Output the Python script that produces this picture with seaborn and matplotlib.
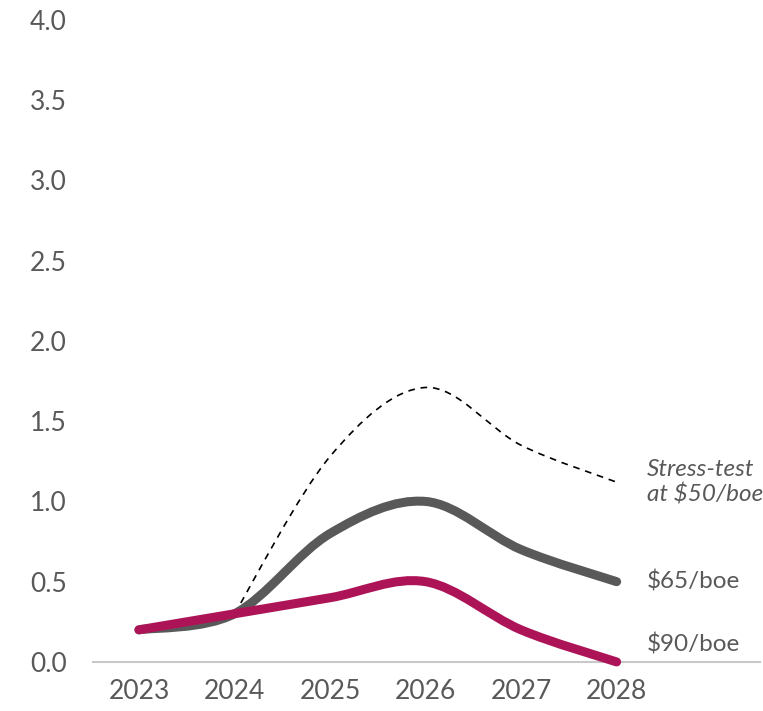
import matplotlib
matplotlib.use("Agg")
import numpy as np
import matplotlib.pyplot as plt
from matplotlib.path import Path
from matplotlib.patches import PathPatch
import seaborn as sns

years = [2023, 2024, 2025, 2026, 2027, 2028]
price_90 = [0.2, 0.3, 0.4, 0.5, 0.2, 0.0]
price_65 = [0.2, 0.3, 0.8, 1.0, 0.7, 0.5]
stress_years = [2024, 2025, 2026, 2027, 2028]
stress_50 = [0.3, 1.28, 1.71, 1.35, 1.12]
yticks = [0.0, 0.5, 1.0, 1.5, 2.0, 2.5, 3.0, 3.5, 4.0]

sns.set_theme(style="white")
plt.rcParams["font.family"] = ["Lato", "DejaVu Sans"]
txt = "#595959"


def smooth_path(xs, ys):
    # Excel-like smoothing: Catmull-Rom segments as cubic Bezier curves
    pts = np.column_stack([xs, ys]).astype(float)
    verts = [pts[0]]
    codes = [Path.MOVETO]
    n = len(pts)
    for i in range(n - 1):
        p0 = pts[i - 1] if i > 0 else pts[i]
        p1 = pts[i]
        p2 = pts[i + 1]
        p3 = pts[i + 2] if i + 2 < n else pts[i + 1]
        c1 = p1 + (p2 - p0) / 6
        c2 = p2 - (p3 - p1) / 6
        verts += [c1, c2, p2]
        codes += [Path.CURVE4] * 3
    return Path(verts, codes)


fig = plt.figure(figsize=(7.63, 7.11), dpi=100)
ax = fig.add_axes([0.122, 0.069, 0.874, 0.903])

ax.add_patch(PathPatch(smooth_path(stress_years, stress_50), fill=False,
                       edgecolor="black", lw=1.2, linestyle=(0, (4, 3.5)),
                       zorder=2, clip_on=False))
ax.add_patch(PathPatch(smooth_path(years, price_65), fill=False,
                       edgecolor="#595959", lw=6.5, capstyle="round",
                       zorder=3, clip_on=False))
ax.add_patch(PathPatch(smooth_path(years, price_90), fill=False,
                       edgecolor="#AD1457", lw=6.5, capstyle="round",
                       zorder=4, clip_on=False))

ax.set_xlim(2022.52, 2029.5)
ax.set_ylim(0, 4.0)
ax.set_xticks(years)
ax.set_xticklabels([str(y) for y in years])
ax.set_yticks(yticks)
ax.set_yticklabels([f"{v:.1f}" for v in yticks])
ax.tick_params(axis="both", labelsize=19, colors=txt, length=0)
ax.tick_params(axis="x", pad=12)
ax.tick_params(axis="y", pad=19)

sns.despine(ax=ax, left=True, top=True, right=True)
ax.spines["bottom"].set_color("#C8C8C8")
ax.spines["bottom"].set_linewidth(1.5)

ax.text(2028.32, 1.12, "Stress-test\nat $50/boe", fontsize=17.5, style="italic",
        color=txt, va="center", ha="left", linespacing=1.2)
ax.text(2028.32, 0.5, "$65/boe", fontsize=17.5, color=txt, va="center", ha="left")
ax.text(2028.32, 0.11, "$90/boe", fontsize=17.5, color=txt, va="center", ha="left")

fig.savefig("out.png", dpi=100)
